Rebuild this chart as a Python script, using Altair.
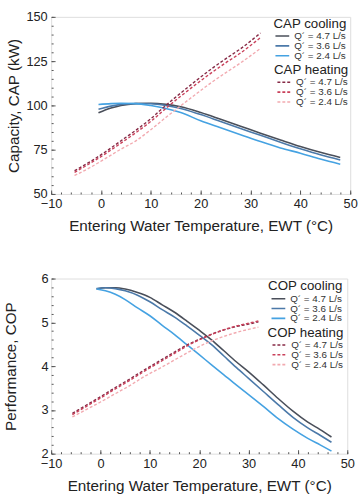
import altair as alt
import pandas as pd

FONT = "Liberation Sans"
FLOWS = ["Q´ = 4.7 L/s", "Q´ = 3.6 L/s", "Q´ = 2.4 L/s"]
COOL_COLORS = ["#4a4f5a", "#4b79a9", "#45a2e2"]
HEAT_COLORS = ["#862a46", "#c9405a", "#f2aab0"]

# ---- Capacity (kW) ----
cap_cool_x = [-0.5, 2, 4, 7, 10, 13, 16, 20, 24, 28, 32, 36, 40, 44, 48]
cap_cool_47 = [95.8, 98.5, 100.0, 101.0, 101.2, 100.6, 99.2, 96.0, 92.2, 88.3, 84.3, 80.5, 76.8, 73.5, 70.6]
cap_cool_36 = [97.8, 99.6, 100.6, 101.1, 100.9, 99.9, 98.3, 94.8, 90.9, 87.0, 83.1, 79.2, 75.5, 72.1, 69.2]
cap_cool_24 = [100.5, 101.0, 101.2, 101.0, 99.9, 98.3, 96.0, 91.3, 87.4, 83.5, 79.6, 76.0, 73.0, 69.7, 66.8]

cap_heat_x = [-5.3, -2, 1, 4, 7, 10, 13, 16, 19, 22, 25, 28, 32]
cap_heat_47 = [63.1, 68.5, 74.0, 80.0, 86.0, 92.5, 100.0, 107.0, 113.8, 120.3, 126.3, 132.0, 140.9]
cap_heat_36 = [62.2, 67.6, 72.9, 78.7, 84.6, 91.0, 98.3, 105.2, 111.8, 118.1, 124.0, 129.6, 138.3]
cap_heat_24 = [60.4, 65.2, 70.2, 75.3, 80.0, 86.3, 93.2, 99.8, 106.3, 112.6, 118.4, 124.0, 132.2]

# ---- Coefficient of performance ----
cop_cool_x = [-0.8, 1, 3, 5, 7.5, 10, 12.5, 15, 17.5, 20, 22.5, 25, 27.5, 30, 33, 36, 39, 42, 44.5, 46.8]
cop_cool_47 = [5.76, 5.79, 5.79, 5.76, 5.68, 5.57, 5.40, 5.23, 5.03, 4.82, 4.60, 4.35, 4.10, 3.87, 3.57, 3.26, 2.97, 2.72, 2.55, 2.38]
cop_cool_36 = [5.77, 5.79, 5.77, 5.72, 5.62, 5.47, 5.29, 5.12, 4.92, 4.71, 4.49, 4.23, 3.97, 3.72, 3.42, 3.12, 2.83, 2.59, 2.42, 2.26]
cop_cool_24 = [5.76, 5.72, 5.64, 5.52, 5.33, 5.15, 4.93, 4.72, 4.49, 4.26, 4.03, 3.80, 3.57, 3.35, 3.08, 2.80, 2.56, 2.35, 2.20, 2.06]

cop_heat_x = [-5.7, -3, 0, 3, 6, 9, 12, 15, 18, 21, 24, 27, 30, 32]
cop_heat_47 = [2.92, 3.10, 3.30, 3.51, 3.71, 3.92, 4.12, 4.32, 4.51, 4.66, 4.79, 4.89, 4.96, 5.01]
cop_heat_36 = [2.89, 3.07, 3.27, 3.48, 3.68, 3.89, 4.09, 4.29, 4.49, 4.65, 4.79, 4.90, 4.98, 5.03]
cop_heat_24 = [2.84, 3.00, 3.18, 3.37, 3.56, 3.77, 3.95, 4.14, 4.33, 4.50, 4.64, 4.75, 4.84, 4.89]

X_MAJOR = list(range(-10, 51, 10))
X_MINOR = list(range(-10, 51, 2))


def long_table(x, series):
    rows = []
    for flow, ys in zip(FLOWS, series):
        for xi, yi in zip(x, ys):
            rows.append({"ewt": xi, "val": yi, "flow": flow})
    return pd.DataFrame(rows)


def legend(title, dashed, lx, ly):
    opts = dict(
        title=title, orient="none", legendX=lx, legendY=ly,
        symbolType="stroke", symbolSize=196, symbolStrokeWidth=1.6,
        titleFontSize=13.5, titleFontWeight="normal", titleColor="#222",
        titleFont=FONT, titleAnchor="end", titlePadding=1,
        labelFontSize=10, labelFont=FONT, labelColor="#333",
        rowPadding=0, padding=0, labelOffset=4, clipHeight=10,
    )
    if dashed:
        opts["symbolDash"] = [3, 2]
    return alt.Legend(**opts)


def panel(cool_df, heat_df, ytitle, ydom, ymajor, yminor, ylab_pad, ytitle_pad,
          cool_title, heat_title, lx, ly1, ly2, w, h):
    xs = alt.Scale(domain=[-10, 50], nice=False, zero=False)
    ys = alt.Scale(domain=ydom, nice=False, zero=False)

    x_main = alt.X("ewt:Q", scale=xs, axis=alt.Axis(
        title="Entering Water Temperature, EWT (°C)", values=X_MAJOR, format="d",
        ticks=False, domain=False, grid=False, labelFlush=False, labelPadding=4,
        titlePadding=8, labelFontSize=13, titleFontSize=15.5, labelColor="#222",
        titleColor="#222", titleFontWeight="normal", labelFont=FONT, titleFont=FONT))
    y_main = alt.Y("val:Q", scale=ys, axis=alt.Axis(
        title=ytitle, values=ymajor, ticks=False, domain=False, grid=False,
        labelPadding=ylab_pad, titlePadding=ytitle_pad, labelFontSize=13,
        titleFontSize=15.5, labelColor="#222", titleColor="#222",
        titleFontWeight="normal", labelFont=FONT, titleFont=FONT))

    cool = alt.Chart(cool_df).mark_line(strokeWidth=1.6, interpolate="monotone").encode(
        x=x_main, y=y_main,
        color=alt.Color("flow:N", sort=FLOWS,
                        scale=alt.Scale(domain=FLOWS, range=COOL_COLORS),
                        legend=legend(cool_title, False, lx, ly1)),
    )
    heat = alt.Chart(heat_df).mark_line(strokeWidth=1.4, strokeDash=[3, 2],
                                        interpolate="monotone").encode(
        x=alt.X("ewt:Q", scale=xs, axis=None),
        y=alt.Y("val:Q", scale=ys, axis=None),
        color=alt.Color("flow:N", sort=FLOWS,
                        scale=alt.Scale(domain=FLOWS, range=HEAT_COLORS),
                        legend=legend(heat_title, True, lx, ly2)),
    )

    def tick_layer(xv, yv, size):
        return alt.Chart(cool_df).mark_point(opacity=0).encode(
            x=alt.X("ewt:Q", scale=xs, axis=alt.Axis(
                orient="bottom", offset=-size, tickSize=size, labels=False,
                domain=False, grid=False, values=xv, title=None,
                tickColor="#555", tickWidth=1)),
            y=alt.Y("val:Q", scale=ys, axis=alt.Axis(
                orient="left", offset=-size, tickSize=size, labels=False,
                domain=False, grid=False, values=yv, title=None,
                tickColor="#555", tickWidth=1)),
        )

    return alt.layer(
        cool, heat, tick_layer(X_MAJOR, ymajor, 4), tick_layer(X_MINOR, yminor, 2)
    ).resolve_scale(color="independent").resolve_axis(
        x="independent", y="independent"
    ).properties(width=w, height=h)


cap_cool = long_table(cap_cool_x, [cap_cool_47, cap_cool_36, cap_cool_24])
cap_heat = long_table(cap_heat_x, [cap_heat_47, cap_heat_36, cap_heat_24])
cop_cool = long_table(cop_cool_x, [cop_cool_47, cop_cool_36, cop_cool_24])
cop_heat = long_table(cop_heat_x, [cop_heat_47, cop_heat_36, cop_heat_24])

top = panel(cap_cool, cap_heat, "Capacity, CAP (kW)", [50, 150],
            [50, 75, 100, 125, 150], list(range(50, 151, 5)), 4, 5,
            "CAP cooling", "CAP heating", 226, 0, 47, 304, 180)
bottom = panel(cop_cool, cop_heat, "Performance, COP", [2, 6],
               [2, 3, 4, 5, 6], [round(2 + 0.2 * i, 1) for i in range(21)], 3, 23,
               "COP cooling", "COP heating", 220, 1, 48, 301, 178)

chart = alt.vconcat(top, bottom, spacing=38).properties(
    padding={"left": 3, "top": 6, "right": 5, "bottom": 5}
).configure_view(stroke="#8a8a8a", strokeWidth=1.3).configure(background="white")

chart.save("out.html", embed_options={"renderer": "svg", "actions": False})
